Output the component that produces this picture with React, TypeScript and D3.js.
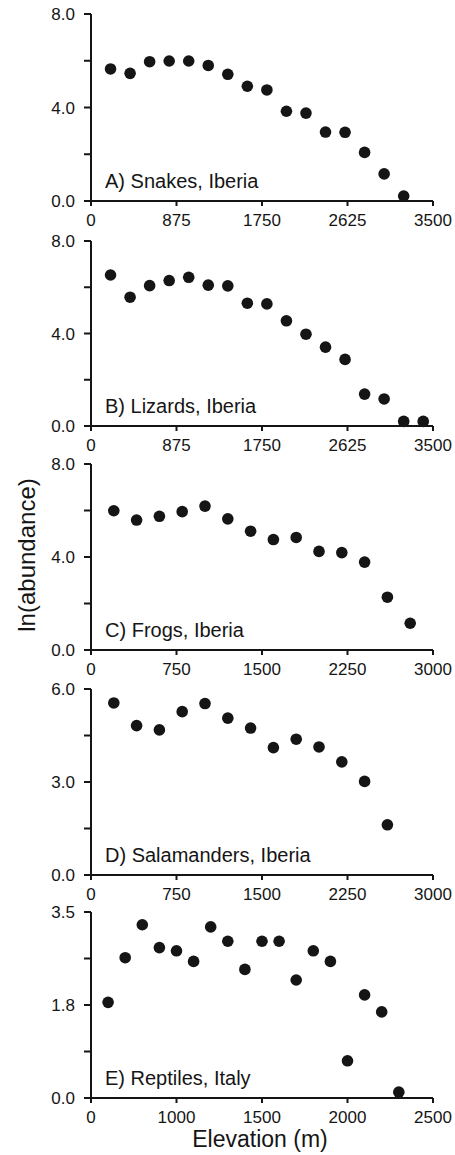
import React from "react";
import * as d3 from "d3";

// ---- data ----
const snakesX = [200, 400, 600, 800, 1000, 1200, 1400, 1600, 1800, 2000, 2200, 2400, 2600, 2800, 3000, 3200];
const snakesY = [5.65, 5.46, 5.96, 5.99, 5.99, 5.8, 5.42, 4.91, 4.75, 3.84, 3.76, 2.95, 2.94, 2.08, 1.16, 0.21];

const lizardsX = [200, 400, 600, 800, 1000, 1200, 1400, 1600, 1800, 2000, 2200, 2400, 2600, 2800, 3000, 3200, 3400];
const lizardsY = [6.53, 5.57, 6.07, 6.29, 6.43, 6.09, 6.06, 5.31, 5.28, 4.55, 3.97, 3.41, 2.88, 1.38, 1.17, 0.2, 0.2];

const frogsX = [200, 400, 600, 800, 1000, 1200, 1400, 1600, 1800, 2000, 2200, 2400, 2600, 2800];
const frogsY = [5.99, 5.59, 5.75, 5.95, 6.19, 5.64, 5.11, 4.75, 4.84, 4.24, 4.19, 3.78, 2.27, 1.15];

const salamandersX = [200, 400, 600, 800, 1000, 1200, 1400, 1600, 1800, 2000, 2200, 2400, 2600];
const salamandersY = [5.55, 4.82, 4.68, 5.27, 5.53, 5.06, 4.74, 4.11, 4.38, 4.13, 3.65, 3.02, 1.62];

const reptilesX = [600, 700, 800, 900, 1000, 1100, 1200, 1300, 1400, 1500, 1600, 1700, 1800, 1900, 2000, 2100, 2200, 2300];
const reptilesY = [1.8, 2.64, 3.26, 2.83, 2.77, 2.57, 3.22, 2.95, 2.42, 2.95, 2.95, 2.22, 2.77, 2.57, 0.7, 1.94, 1.62, 0.11];

const panelTitles = ["A) Snakes, Iberia", "B) Lizards, Iberia", "C) Frogs, Iberia", "D) Salamanders, Iberia", "E) Reptiles, Italy"];

const xDomains = [[0, 3500], [0, 3500], [0, 3000], [0, 3000], [500, 2500]];
const xTickValues = [
  [0, 875, 1750, 2625, 3500],
  [0, 875, 1750, 2625, 3500],
  [0, 750, 1500, 2250, 3000],
  [0, 750, 1500, 2250, 3000],
  [500, 1000, 1500, 2000, 2500],
];
const xTickLabels = [
  ["0", "875", "1750", "2625", "3500"],
  ["0", "875", "1750", "2625", "3500"],
  ["0", "750", "1500", "2250", "3000"],
  ["0", "750", "1500", "2250", "3000"],
  ["0", "1000", "1500", "2000", "2500"],
];

const yMax = [8, 8, 8, 6, 3.5];
const yMajorTicks = [[0, 4, 8], [0, 4, 8], [0, 4, 8], [0, 3, 6], [0, 1.75, 3.5]];
const yMajorLabels = [
  ["0.0", "4.0", "8.0"],
  ["0.0", "4.0", "8.0"],
  ["0.0", "4.0", "8.0"],
  ["0.0", "3.0", "6.0"],
  ["0.0", "1.8", "3.5"],
];
const yMinorTicks = [[2, 6], [2, 6], [2, 6], [1.5, 4.5], [0.875, 2.625]];

const seriesX = [snakesX, lizardsX, frogsX, salamandersX, reptilesX];
const seriesY = [snakesY, lizardsY, frogsY, salamandersY, reptilesY];

// ---- layout ----
const W = 455;
const H = 1155;
const left = 91;
const right = 433;
const panelTops = [14, 241, 464, 689, 912];
const panelBottoms = [201, 426, 650, 875, 1098];
const FONT = "'Liberation Sans', Arial, Helvetica, sans-serif";
const INK = "#151515";

function Panel({ i }: { i: number }) {
  const x = d3.scaleLinear().domain(xDomains[i]).range([left, right]);
  const y = d3.scaleLinear().domain([0, yMax[i]]).range([panelBottoms[i], panelTops[i]]);
  const bottom = panelBottoms[i];
  const top = panelTops[i];
  return (
    <g>
      {/* points */}
      {seriesX[i].map((xv, k) => (
        <circle key={k} cx={x(xv)} cy={y(seriesY[i][k])} r={5.8} fill={INK} />
      ))}
      {/* axes */}
      <line x1={left} x2={left} y1={top} y2={bottom + 3} stroke={INK} strokeWidth={2} />
      <line x1={left - 1} x2={right} y1={bottom} y2={bottom} stroke={INK} strokeWidth={2} />
      {yMajorTicks[i].map((t, k) => (
        <g key={"ym" + k}>
          <line x1={left - 7} x2={left} y1={y(t)} y2={y(t)} stroke={INK} strokeWidth={2} />
          <text x={75} y={y(t)} dy="0.36em" textAnchor="end" fontSize={17} fill={INK} fontFamily={FONT}>
            {yMajorLabels[i][k]}
          </text>
        </g>
      ))}
      {yMinorTicks[i].map((t, k) => (
        <line key={"yn" + k} x1={left - 7} x2={left} y1={y(t)} y2={y(t)} stroke={INK} strokeWidth={2} />
      ))}
      {xTickValues[i].map((t, k) => (
        <g key={"x" + k}>
          <line x1={x(t)} x2={x(t)} y1={bottom} y2={bottom + 5} stroke={INK} strokeWidth={2} />
          <text x={x(t)} y={bottom + 24.5} textAnchor="middle" fontSize={17} fill={INK} fontFamily={FONT}>
            {xTickLabels[i][k]}
          </text>
        </g>
      ))}
      <text x={105} y={bottom - 13} fontSize={20} fill={INK} fontFamily={FONT}>
        {panelTitles[i]}
      </text>
    </g>
  );
}

export default function App() {
  return (
    <svg
      width={W}
      height={H}
      viewBox={`0 0 ${W} ${H}`}
      style={{ position: "absolute", left: 0, top: 0, background: "#fff" }}
    >
      <rect x={0} y={0} width={W} height={H} fill="#fff" />
      {panelTitles.map((_, i) => (
        <Panel key={i} i={i} />
      ))}
      <text
        transform={`translate(35, 555) rotate(-90)`}
        textAnchor="middle"
        fontSize={24}
        fill={INK}
        fontFamily={FONT}
      >
        ln(abundance)
      </text>
      <text x={260} y={1147} textAnchor="middle" fontSize={23} fill={INK} fontFamily={FONT}>
        Elevation (m)
      </text>
    </svg>
  );
}
